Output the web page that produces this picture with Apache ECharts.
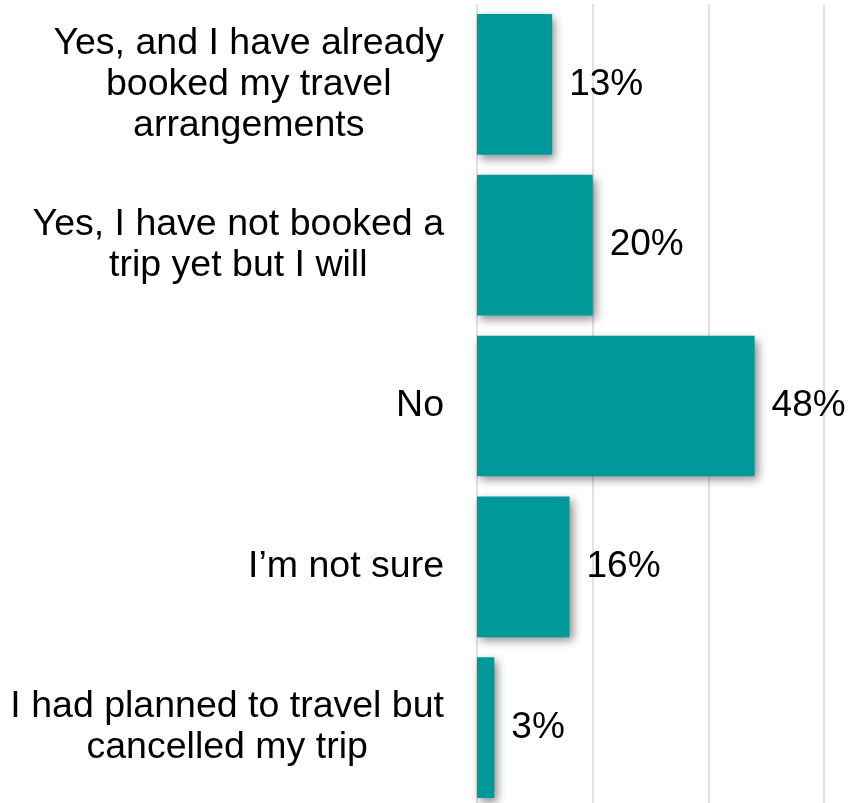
<!DOCTYPE html>
<html>
<head>
<meta charset="utf-8">
<script src="https://cdn.jsdelivr.net/npm/echarts@6/dist/echarts.min.js"></script>
<style>html,body{margin:0;padding:0;background:#fff}#c{width:851px;height:803px}</style>
</head>
<body>
<div id="c"></div>
<script>
const categories = [
  "Yes, and I have already\nbooked my travel\narrangements",
  "Yes, I have not booked a\ntrip yet but I will",
  "No",
  "I\u2019m not sure",
  "I had planned to travel but\ncancelled my trip"
];
const values = [13, 20, 48, 16, 3];
const axisMin = 0, axisMax = 60, axisInterval = 20;

const FONT = "'Liberation Sans', Arial, sans-serif";
const chart = echarts.init(document.getElementById('c'), null, {renderer: 'canvas'});
chart.setOption({
  animation: false,
  backgroundColor: '#ffffff',
  grid: {left: 477, right: 27, top: 4, height: 804, containLabel: false, outerBoundsMode: 'none'},
  xAxis: {
    type: 'value', min: axisMin, max: axisMax, interval: axisInterval,
    axisLabel: {show: false}, axisLine: {show: false}, axisTick: {show: false},
    splitLine: {show: true, lineStyle: {color: '#d9d9d9', width: 1.5}}
  },
  yAxis: {
    type: 'category', data: categories, inverse: true,
    axisLine: {show: false}, axisTick: {show: false},
    axisLabel: {
      margin: 33, align: 'right',
      fontFamily: FONT, fontSize: 37.5, color: '#000',
      lineHeight: 41,
      formatter: function (v) { return v.split('\n').map(s => '{c|' + s + '}').join('\n'); },
      rich: {c: {align: 'center', fontFamily: FONT, fontSize: 37.5, color: '#000', lineHeight: 41}}
    }
  },
  series: [{
    type: 'bar', data: values, barCategoryGap: '12.5%',
    itemStyle: {color: '#009999', shadowColor: 'rgba(0,0,0,0.45)', shadowBlur: 9, shadowOffsetX: 3, shadowOffsetY: 4},
    label: {show: true, position: 'right', distance: 17, formatter: '{c}%',
      fontFamily: FONT, fontSize: 37, color: '#000'}
  }]
});
</script>
</body>
</html>
